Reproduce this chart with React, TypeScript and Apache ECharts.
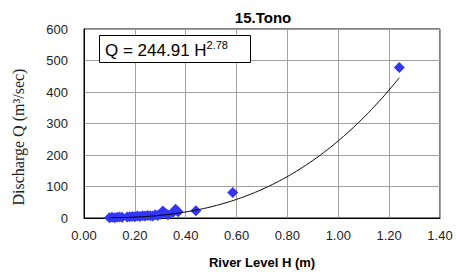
import React, { useEffect, useRef } from "react";
import * as echarts from "echarts";

const titleText = "15.Tono";
const xAxisName = "River Level H (m)";
const yAxisName = "Discharge Q (m³/sec)";
const coefA = 244.91;
const coefB = 2.78;
const levelH = [0.10, 0.11, 0.12, 0.13, 0.14, 0.15, 0.17, 0.18, 0.19, 0.20, 0.21, 0.22, 0.23, 0.24, 0.25, 0.26, 0.27, 0.28, 0.29, 0.30, 0.31, 0.32, 0.33, 0.35, 0.36, 0.37, 0.44, 0.585, 1.24];
const dischargeQ = [1, 2, 1, 2, 3, 2, 3, 4, 5, 4, 6, 5, 7, 6, 8, 7, 6, 10, 8, 12, 22, 15, 10, 18, 28, 20, 23, 81, 478];
const trendH = [0.10, 0.15, 0.20, 0.25, 0.30, 0.35, 0.40, 0.45, 0.50, 0.55, 0.60, 0.65, 0.70, 0.75, 0.80, 0.85, 0.90, 0.95, 1.00, 1.05, 1.10, 1.15, 1.20, 1.24];

export default function App() {
  const ref = useRef<HTMLDivElement>(null);
  useEffect(() => {
    const chart = echarts.init(ref.current!, null, { renderer: "svg" });
    const scatterData = levelH.map((h, i) => [h, dischargeQ[i]]);
    const trendData = trendH.map((h) => [h, coefA * Math.pow(h, coefB)]);
    chart.setOption({
      animation: false,
      title: {
        text: titleText,
        left: 258,
        top: 5,
        textAlign: "center",
        textStyle: { fontFamily: "Liberation Sans, Arial", fontWeight: "bold", fontSize: 15, color: "#000" },
      },
      grid: { left: 84, right: 16, top: 29, bottom: 58, show: true, borderColor: "#000", borderWidth: 1, backgroundColor: "transparent" },
      xAxis: {
        type: "value",
        min: 0,
        max: 1.4,
        interval: 0.2,
        name: xAxisName,
        nameLocation: "middle",
        nameGap: 38,
        nameTextStyle: { fontFamily: "Liberation Sans, Arial", fontWeight: "bold", fontSize: 13, color: "#000" },
        axisLine: { show: true, lineStyle: { color: "#000", width: 1 } },
        axisTick: { show: false },
        axisLabel: { formatter: (v: number) => v.toFixed(2), fontFamily: "Liberation Sans, Arial", fontSize: 13, color: "#222", margin: 11 },
        splitLine: { show: true, lineStyle: { color: "#a0a0a0", width: 1 } },
      },
      yAxis: {
        type: "value",
        min: 0,
        max: 600,
        interval: 100,
        axisLine: { show: true, lineStyle: { color: "#000", width: 1 } },
        axisTick: { show: false },
        axisLabel: { fontFamily: "Liberation Sans, Arial", fontSize: 13, color: "#222", margin: 16 },
        splitLine: { show: true, lineStyle: { color: "#a0a0a0", width: 1 } },
      },
      graphic: [
        {
          type: "text",
          x: 18,
          y: 137,
          rotation: Math.PI / 2,
          style: {
            text: yAxisName,
            fontFamily: "Liberation Serif, Times New Roman, serif",
            fontSize: 16,
            fill: "#222",
            textAlign: "center",
            textVerticalAlign: "middle",
          },
        },
        {
          type: "rect",
          shape: { x: 99.5, y: 35.5, width: 151, height: 27 },
          style: { fill: "#fff", stroke: "#000", lineWidth: 1 },
          z: 100,
        },
        {
          type: "text",
          x: 105,
          y: 49,
          z: 101,
          style: {
            text: "{m|Q = 244.91 H}{s|2.78}",
            textVerticalAlign: "middle",
            rich: {
              m: { fontFamily: "Liberation Sans, Arial", fontSize: 17, fill: "#000", verticalAlign: "bottom", lineHeight: 20 },
              s: { fontFamily: "Liberation Sans, Arial", fontSize: 11, fill: "#000", verticalAlign: "top", lineHeight: 20, padding: [0, 0, 8, 0] },
            },
          },
        },
      ],
      series: [
        {
          type: "line",
          data: trendData,
          showSymbol: false,
          smooth: true,
          lineStyle: { color: "#000", width: 1 },
          z: 3,
        },
        {
          type: "scatter",
          data: scatterData,
          symbol: "diamond",
          symbolSize: 11,
          itemStyle: { color: "#3535f5", opacity: 1 },
          z: 2,
        },
      ],
    });
    return () => chart.dispose();
  }, []);
  return <div ref={ref} style={{ width: 456, height: 276, position: "absolute", left: 0, top: 0, background: "#fff" }} />;
}
